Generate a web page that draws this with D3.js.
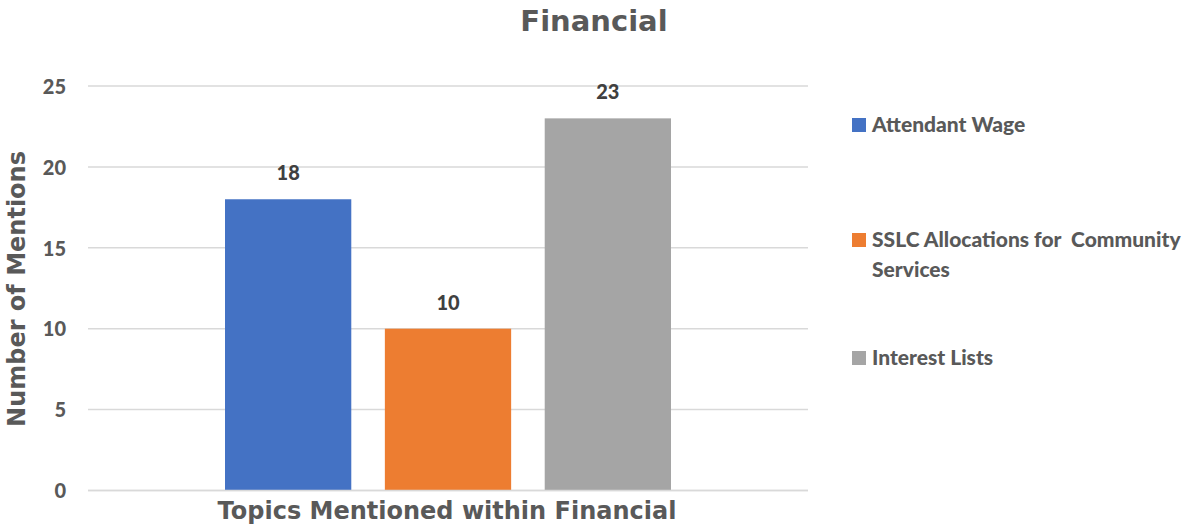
<!DOCTYPE html>
<html>
<head>
<meta charset="utf-8">
<script src="https://cdn.jsdelivr.net/npm/d3@7"></script>
<style>
  body { margin: 0; background: #fff; }
  text { fill: #595959; }
</style>
</head>
<body>
<script>
'use strict';

// chart data
let series = ["Attendant Wage", "SSLC Allocations for  Community Services", "Interest Lists"];
let legendLines = [["Attendant Wage"], ["SSLC Allocations for  Community", "Services"], ["Interest Lists"]];
let values = [18, 10, 23];
let colors = ["#4472C4", "#ED7D31", "#A5A5A5"];
let yTicks = [0, 5, 10, 15, 20, 25];

let width = 1203, height = 527;
let svg = d3.select("body").append("svg")
  .attr("width", width)
  .attr("height", height);

// scales
let yScale = d3.scaleLinear().domain([0, 25]).range([490.5, 86]);
let xScale = d3.scaleBand().domain(series).range([225, 671]).paddingInner(0.21);

// gridlines
svg.append("g").selectAll("line")
  .data(yTicks)
  .enter().append("line")
    .attr("x1", 88).attr("x2", 808)
    .attr("y1", d => yScale(d)).attr("y2", d => yScale(d))
    .attr("stroke", "#d9d9d9")
    .attr("stroke-width", 1.5);

// y axis labels
let yAxis = d3.axisLeft(yScale).tickValues(yTicks).tickSize(0).tickPadding(0);
let yg = svg.append("g").attr("transform", "translate(66,0)").call(yAxis);
yg.select(".domain").remove();
yg.selectAll("text")
  .attr("dy", "0.36em")
  .style("font-family", "Lato, sans-serif")
  .style("font-weight", "900")
  .style("font-size", "20px")
  .style("fill", "#595959");

// bars
svg.append("g").selectAll("rect")
  .data(series)
  .enter().append("rect")
    .attr("x", d => xScale(d))
    .attr("width", xScale.bandwidth())
    .attr("y", (d, i) => yScale(values[i]))
    .attr("height", (d, i) => yScale(0) - yScale(values[i]))
    .attr("fill", (d, i) => colors[i]);

// baseline redrawn on top
svg.append("line")
  .attr("x1", 88).attr("x2", 808)
  .attr("y1", yScale(0)).attr("y2", yScale(0))
  .attr("stroke", "#d9d9d9")
  .attr("stroke-width", 1.5);

// data labels
svg.append("g").selectAll("text")
  .data(series)
  .enter().append("text")
    .attr("x", d => xScale(d) + xScale.bandwidth() / 2)
    .attr("y", (d, i) => yScale(values[i]) - 19)
    .attr("text-anchor", "middle")
    .style("font-family", "Lato, sans-serif")
    .style("font-weight", "900")
    .style("font-size", "20px")
    .style("fill", "#404040")
    .text((d, i) => values[i]);

// title
svg.append("text")
  .attr("x", 594).attr("y", 31)
  .attr("text-anchor", "middle")
  .style("font-family", "DejaVu Sans, sans-serif")
  .style("font-weight", "bold")
  .style("font-size", "29px")
  .text("Financial");

// axis titles
svg.append("text")
  .attr("x", 447).attr("y", 519)
  .attr("text-anchor", "middle")
  .style("font-family", "DejaVu Sans, sans-serif")
  .style("font-weight", "bold")
  .style("font-size", "24px")
  .text("Topics Mentioned within Financial");

svg.append("text")
  .attr("transform", "translate(25,289)rotate(-90)")
  .attr("text-anchor", "middle")
  .style("font-family", "DejaVu Sans, sans-serif")
  .style("font-weight", "bold")
  .style("font-size", "24px")
  .text("Number of Mentions");

// legend
let legendY = [132, 247, 365];
let legend = svg.append("g").selectAll("g")
  .data(series)
  .enter().append("g")
    .attr("transform", (d, i) => "translate(852," + legendY[i] + ")");

legend.append("rect")
  .attr("x", 0).attr("y", -14)
  .attr("width", 14).attr("height", 14)
  .attr("fill", (d, i) => colors[i]);

legend.append("text")
  .attr("x", 20).attr("y", 0)
  .style("font-family", "Lato, sans-serif")
  .style("font-weight", "900")
  .style("font-size", "21px")
  .style("white-space", "pre")
  .each(function(d, i) {
    d3.select(this).selectAll("tspan")
      .data(legendLines[i])
      .enter().append("tspan")
        .attr("x", 20)
        .attr("dy", (t, j) => j === 0 ? 0 : 30)
        .text(t => t);
  });
</script>
</body>
</html>
